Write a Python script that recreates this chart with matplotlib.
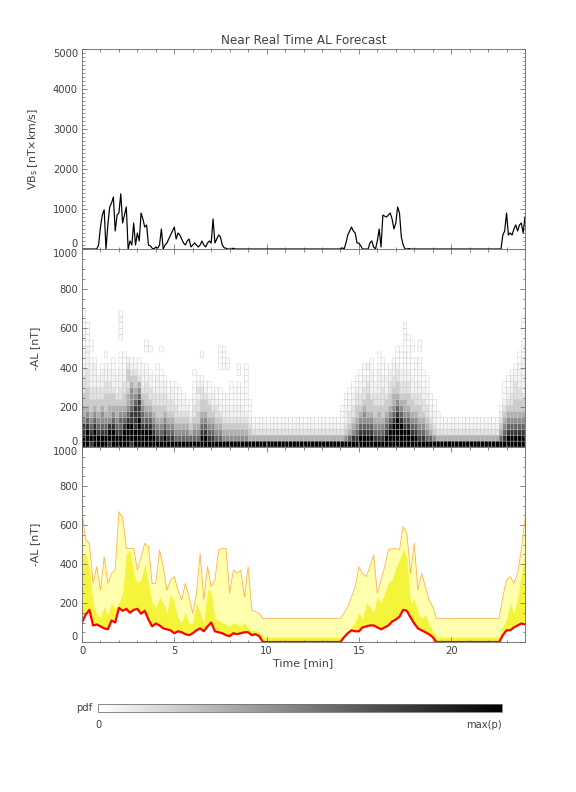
import numpy as np
import matplotlib
matplotlib.use('Agg')
import matplotlib.pyplot as plt
from matplotlib.ticker import MultipleLocator
from matplotlib.colors import PowerNorm, Normalize
from matplotlib.cm import ScalarMappable

# ---- data ----
# VBs, one value every 0.1 min (rows of 10 = one minute)
vbs = [
    0, 0, 0, 0, 0, 0, 0, 0, 0, 100,
    550, 850, 980, 0, 600, 1050, 1150, 1300, 450, 850,
    900, 1380, 650, 850, 1050, 0, 200, 100, 650, 100,
    400, 200, 900, 750, 550, 600, 100, 80, 20, 0,
    50, 20, 100, 500, 0, 100, 150, 250, 350, 450,
    550, 250, 400, 350, 250, 150, 100, 200, 250, 50,
    100, 150, 100, 50, 100, 200, 100, 50, 150, 200,
    150, 750, 150, 250, 350, 300, 100, 30, 20, 0,
    0, 0, 20, 0, 0, 0, 0, 0, 0, 0,
    0, 0, 0, 0, 0, 0, 0, 0, 0, 0,
    0, 0, 0, 0, 0, 0, 0, 0, 0, 0,
    0, 0, 0, 0, 0, 0, 0, 0, 0, 0,
    0, 0, 0, 0, 0, 0, 0, 0, 0, 0,
    0, 0, 0, 0, 0, 0, 0, 0, 0, 0,
    0, 30, 0, 150, 350, 450, 550, 450, 400, 150,
    150, 80, 0, 0, 0, 0, 150, 200, 50, 0,
    200, 500, 50, 850, 820, 800, 850, 900, 750, 500,
    650, 1050, 900, 300, 100, 0, 0, 10, 0, 0,
    0, 0, 0, 0, 0, 0, 0, 0, 0, 0,
    0, 0, 0, 0, 0, 0, 0, 0, 0, 0,
    0, 0, 0, 0, 0, 0, 0, 0, 0, 0,
    0, 0, 0, 0, 0, 0, 0, 0, 0, 0,
    0, 0, 0, 0, 0, 0, 0, 0, 350, 450,
    900, 350, 400, 350, 500, 600, 450, 600, 650, 400,
    800,
]
t_vbs = np.linspace(0, 24, len(vbs))

# AL forecast, one value every 0.2 min (rows of 10 = two minutes)
al_pred = [
    100, 140, 165, 85, 90, 80, 70, 65, 110, 100,
    175, 160, 170, 150, 165, 170, 145, 160, 115, 80,
    95, 85, 70, 65, 60, 45, 55, 50, 40, 35,
    45, 60, 70, 55, 80, 100, 55, 50, 45, 35,
    30, 45, 40, 45, 50, 50, 35, 40, 30, 0,
    0, 0, 0, 0, 0, 0, 0, 0, 0, 0,
    0, 0, 0, 0, 0, 0, 0, 0, 0, 0,
    0, 25, 45, 60, 55, 55, 75, 80, 85, 85,
    75, 65, 75, 85, 105, 115, 130, 165, 160, 125,
    95, 70, 60, 50, 40, 25, 0, 0, 0, 0,
    0, 0, 0, 0, 0, 0, 0, 0, 0, 0,
    0, 0, 0, 0, 35, 60, 60, 75, 85, 95,
    90,
]
al_mid = [
    450, 450, 380, 200, 140, 130, 180, 140, 200, 170,
    200, 250, 450, 470, 350, 300, 320, 400, 300, 200,
    180, 230, 200, 150, 250, 200, 120, 100, 150, 90,
    100, 200, 150, 100, 270, 260, 120, 110, 100, 90,
    80, 100, 90, 80, 100, 70, 60, 60, 50, 25,
    25, 25, 25, 25, 25, 25, 25, 25, 25, 25,
    25, 25, 25, 25, 25, 25, 25, 25, 25, 25,
    25, 30, 40, 80, 100, 150, 120, 200, 180, 150,
    230, 200, 250, 300, 320, 380, 420, 480, 430, 200,
    220, 150, 120, 140, 90, 60, 25, 25, 25, 25,
    25, 25, 25, 25, 25, 25, 25, 25, 25, 25,
    25, 25, 25, 25, 80, 120, 200, 150, 220, 350,
    450,
]
al_high = [
    668, 523, 506, 301, 386, 266, 437, 301, 352, 369,
    668, 640, 480, 480, 480, 369, 437, 506, 489, 300,
    301, 472, 386, 266, 318, 335, 266, 215, 301, 232,
    147, 250, 455, 215, 386, 284, 318, 472, 480, 480,
    250, 369, 352, 369, 232, 386, 164, 155, 147, 121,
    121, 121, 121, 121, 121, 121, 121, 121, 121, 121,
    121, 121, 121, 121, 121, 121, 121, 121, 121, 121,
    121, 150, 181, 232, 284, 386, 352, 335, 386, 446,
    250, 318, 386, 472, 480, 480, 472, 591, 557, 352,
    506, 266, 352, 284, 215, 181, 121, 121, 121, 121,
    121, 121, 121, 121, 121, 121, 121, 121, 121, 121,
    121, 121, 121, 121, 232, 318, 335, 301, 352, 472,
    634,
]
t_al = np.linspace(0, 24, len(al_pred))

# pdf of -AL, 0 (white) .. 9 (black); rows top (660-690 nT) to bottom (0-30 nT),
# columns of 0.2 min
pdf_rows = [
    "1000000000 1000000000 0000000000 0000000000 0000000000 0000000000 0000000000 0000000000 0000000000 0000000000 0000000000 0000000000",
    "1000000000 2000000000 0000000000 0000000000 0000000000 0000000000 0000000000 0000000000 0000000000 0000000000 0000000000 0000000001",
    "1100000000 1000000000 0000000000 0000000000 0000000000 0000000000 0000000000 0000000000 0000000100 0000000000 0000000000 0000000001",
    "1100000000 1000000000 0000000000 0000000000 0000000000 0000000000 0000000000 0000000000 0000000100 0000000000 0000000000 0000000001",
    "2100000000 1000000000 0000000000 0000000000 0000000000 0000000000 0000000000 0000000000 0000000110 0000000000 0000000000 0000000000",
    "1110000000 0000000100 0000000000 0000000000 0000000000 0000000000 0000000000 0000000000 0000000101 0100000000 0000000000 0000000001",
    "1210000000 0000000110 0100000000 0000000110 0000000000 0000000000 0000000000 0000000000 0000011011 0100000000 0000000000 0000000001",
    "1200001000 1100000000 0000000000 0010000110 0000000000 0000000000 0000000000 0000000000 1000011110 0000000000 0000000000 0000000011",
    "1211000010 1121110000 0000000000 0000000111 0000000000 0000000000 0000000000 0000000010 0100111111 1100000000 0000000000 0000000012",
    "2222011110 1132211100 1000000000 0000000111 0010100000 0000000000 0000000000 0000002210 1111221111 1100000000 0000000000 0000000122",
    "2322122221 2243322210 1100000000 1000000000 0010100000 0000000000 0000000000 0000011121 2112232221 1110000000 0000000000 0000001222",
    "3322222222 2244432221 2110000000 0110000000 0000100000 0000000000 0000000000 0000112221 2222332222 1111000000 0000000000 0000012222",
    "3322223322 2335452321 2221110000 1221100000 1010100000 0000000000 0000000000 0001122322 2223343332 2211000000 0000000000 0000112322",
    "3433333332 3346563332 2221211000 1332111100 1111100000 0000000000 0000000000 0011223322 2323443332 2221000000 0000000000 0000122332",
    "4433334443 3456674433 3332221100 2233221111 1111100000 0000000000 0000000000 0112333433 3334554443 3322100000 0000000000 0000123333",
    "4444444444 4456785443 3333322211 2344322211 1111110000 0000000000 0000000000 0122334443 3344565544 3332110000 0000000000 0000233444",
    "5545454555 5567886554 4443332221 3344433222 2222110000 0000000000 0000000000 1223445444 4445676554 4433210000 0000000000 0001344444",
    "5656565565 6678887665 4454433332 3455443322 2222210000 0000000000 0000000000 1233456554 5456787665 5443221000 0000000000 0002455555",
    "6767666676 7788897776 5565544443 4466554433 3333321111 1111111111 1111111111 1234566665 5567898776 6554321111 1111111111 1113566666",
    "8878777887 7899898887 6676655554 5577665544 4444432222 2222222222 2222222222 2345677776 6678999887 7665432222 2222222222 2224677777",
    "8989888998 8999999998 7787766665 6688776655 5555543333 3333333333 3333333333 3456788887 7789999998 8776543333 3333333333 3335788888",
    "9999999999 9999999999 8898877777 7799887766 6666655555 5555555555 5555555555 5678899998 8899999999 9887765555 5555555555 5557899999",
    "9989999899 9998999999 9999999999 9999999999 9999999999 9999999999 9999999999 9999999999 9999999999 9999999999 9999999999 9999999999",
]
pdf = np.array([[int(c) for c in row.replace(' ', '')] for row in pdf_rows[::-1]], dtype=float)
t_edges = np.linspace(0, 24, pdf.shape[1] + 1)
al_edges = np.linspace(0, 30 * pdf.shape[0], pdf.shape[0] + 1)

# ---- style ----
txt = '#404040'
edge = '#707070'
plt.rcParams['font.family'] = 'DejaVu Sans'
plt.rcParams['font.size'] = 10
plt.rcParams['text.color'] = txt
plt.rcParams['axes.labelcolor'] = txt
plt.rcParams['xtick.color'] = edge
plt.rcParams['ytick.color'] = edge
plt.rcParams['xtick.labelcolor'] = txt
plt.rcParams['ytick.labelcolor'] = txt

fig = plt.figure(figsize=(8, 11), dpi=72)
W, H = 576.0, 792.0
left, right = 82, 525


def make_ax(top, bottom):
    return fig.add_axes([left / W, 1 - bottom / H, (right - left) / W, (bottom - top) / H])


ax1 = make_ax(49, 249)
ax2 = make_ax(249, 447)
ax3 = make_ax(447, 642)

# top: VBs
ax1.plot(t_vbs, vbs, color='black', lw=1.2)
ax1.set_ylim(0, 5000)
ax1.set_yticks(np.arange(0, 5001, 1000))
ax1.yaxis.set_minor_locator(MultipleLocator(100))
ax1.set_ylabel(r'VB$_\mathrm{s}$ [nT$\times$km/s]', fontsize=11)
ax1.set_title('Near Real Time AL Forecast', fontsize=12, color=txt, pad=5)

# middle: pdf
pdf_m = np.ma.masked_equal(pdf, 0)
ax2.pcolor(t_edges, al_edges, pdf_m, cmap='gray_r', norm=PowerNorm(2.0, vmin=0, vmax=9),
           edgecolors='#c4c4c4', linewidth=0.35)
ax2.set_ylim(0, 1000)
ax2.set_ylabel('-AL [nT]', fontsize=11)

# bottom: forecast bands
ax3.fill_between(t_al, al_pred, al_high, color='#FFFFAE', lw=0)
ax3.fill_between(t_al, al_pred, al_mid, color='#F4F43A', lw=0)
ax3.plot(t_al, al_high, color='#FFB040', lw=0.8)
ax3.plot(t_al, al_pred, color='#FF0000', lw=2.2)
ax3.set_ylim(0, 1000)
ax3.set_ylabel('-AL [nT]', fontsize=11)
ax3.set_xlabel('Time [min]', fontsize=11, labelpad=2)

for ax in (ax2, ax3):
    ax.set_yticks(np.arange(0, 1001, 200))
    ax.yaxis.set_minor_locator(MultipleLocator(50))

for ax in (ax1, ax2, ax3):
    ax.set_xlim(0, 24)
    ax.set_xticks([0, 5, 10, 15, 20])
    ax.xaxis.set_minor_locator(MultipleLocator(1))
    ax.tick_params(which='both', direction='in', top=True, right=True, width=0.8)
    ax.tick_params(which='major', length=5, pad=4)
    ax.tick_params(which='minor', length=2.5)
    for s in ax.spines.values():
        s.set_color(edge)
        s.set_linewidth(0.9)
    ax.yaxis.set_label_coords((40 - left) / (right - left), 0.5)
    yt = ax.yaxis.get_major_ticks()
    yt[0].label1.set_va('bottom')
    yt[-1].label1.set_va('top')

ax1.tick_params(labelbottom=False)
ax2.tick_params(labelbottom=False)

# colour bar (linear grey scale, 0 .. max(p))
cax = fig.add_axes([98 / W, 1 - 712 / H, 404 / W, 8 / H])
cb = fig.colorbar(ScalarMappable(norm=Normalize(0, 9), cmap='gray_r'), cax=cax,
                  orientation='horizontal')
cb.set_ticks([])
cb.outline.set_edgecolor(edge)
cb.outline.set_linewidth(0.8)
fig.text(92 / W, 1 - 708 / H, 'pdf', ha='right', va='center', fontsize=10)
fig.text(98 / W, 1 - 725 / H, '0', ha='center', va='center', fontsize=10)
fig.text(502 / W, 1 - 725 / H, 'max(p)', ha='right', va='center', fontsize=10)

fig.savefig('out.png', dpi=72)
